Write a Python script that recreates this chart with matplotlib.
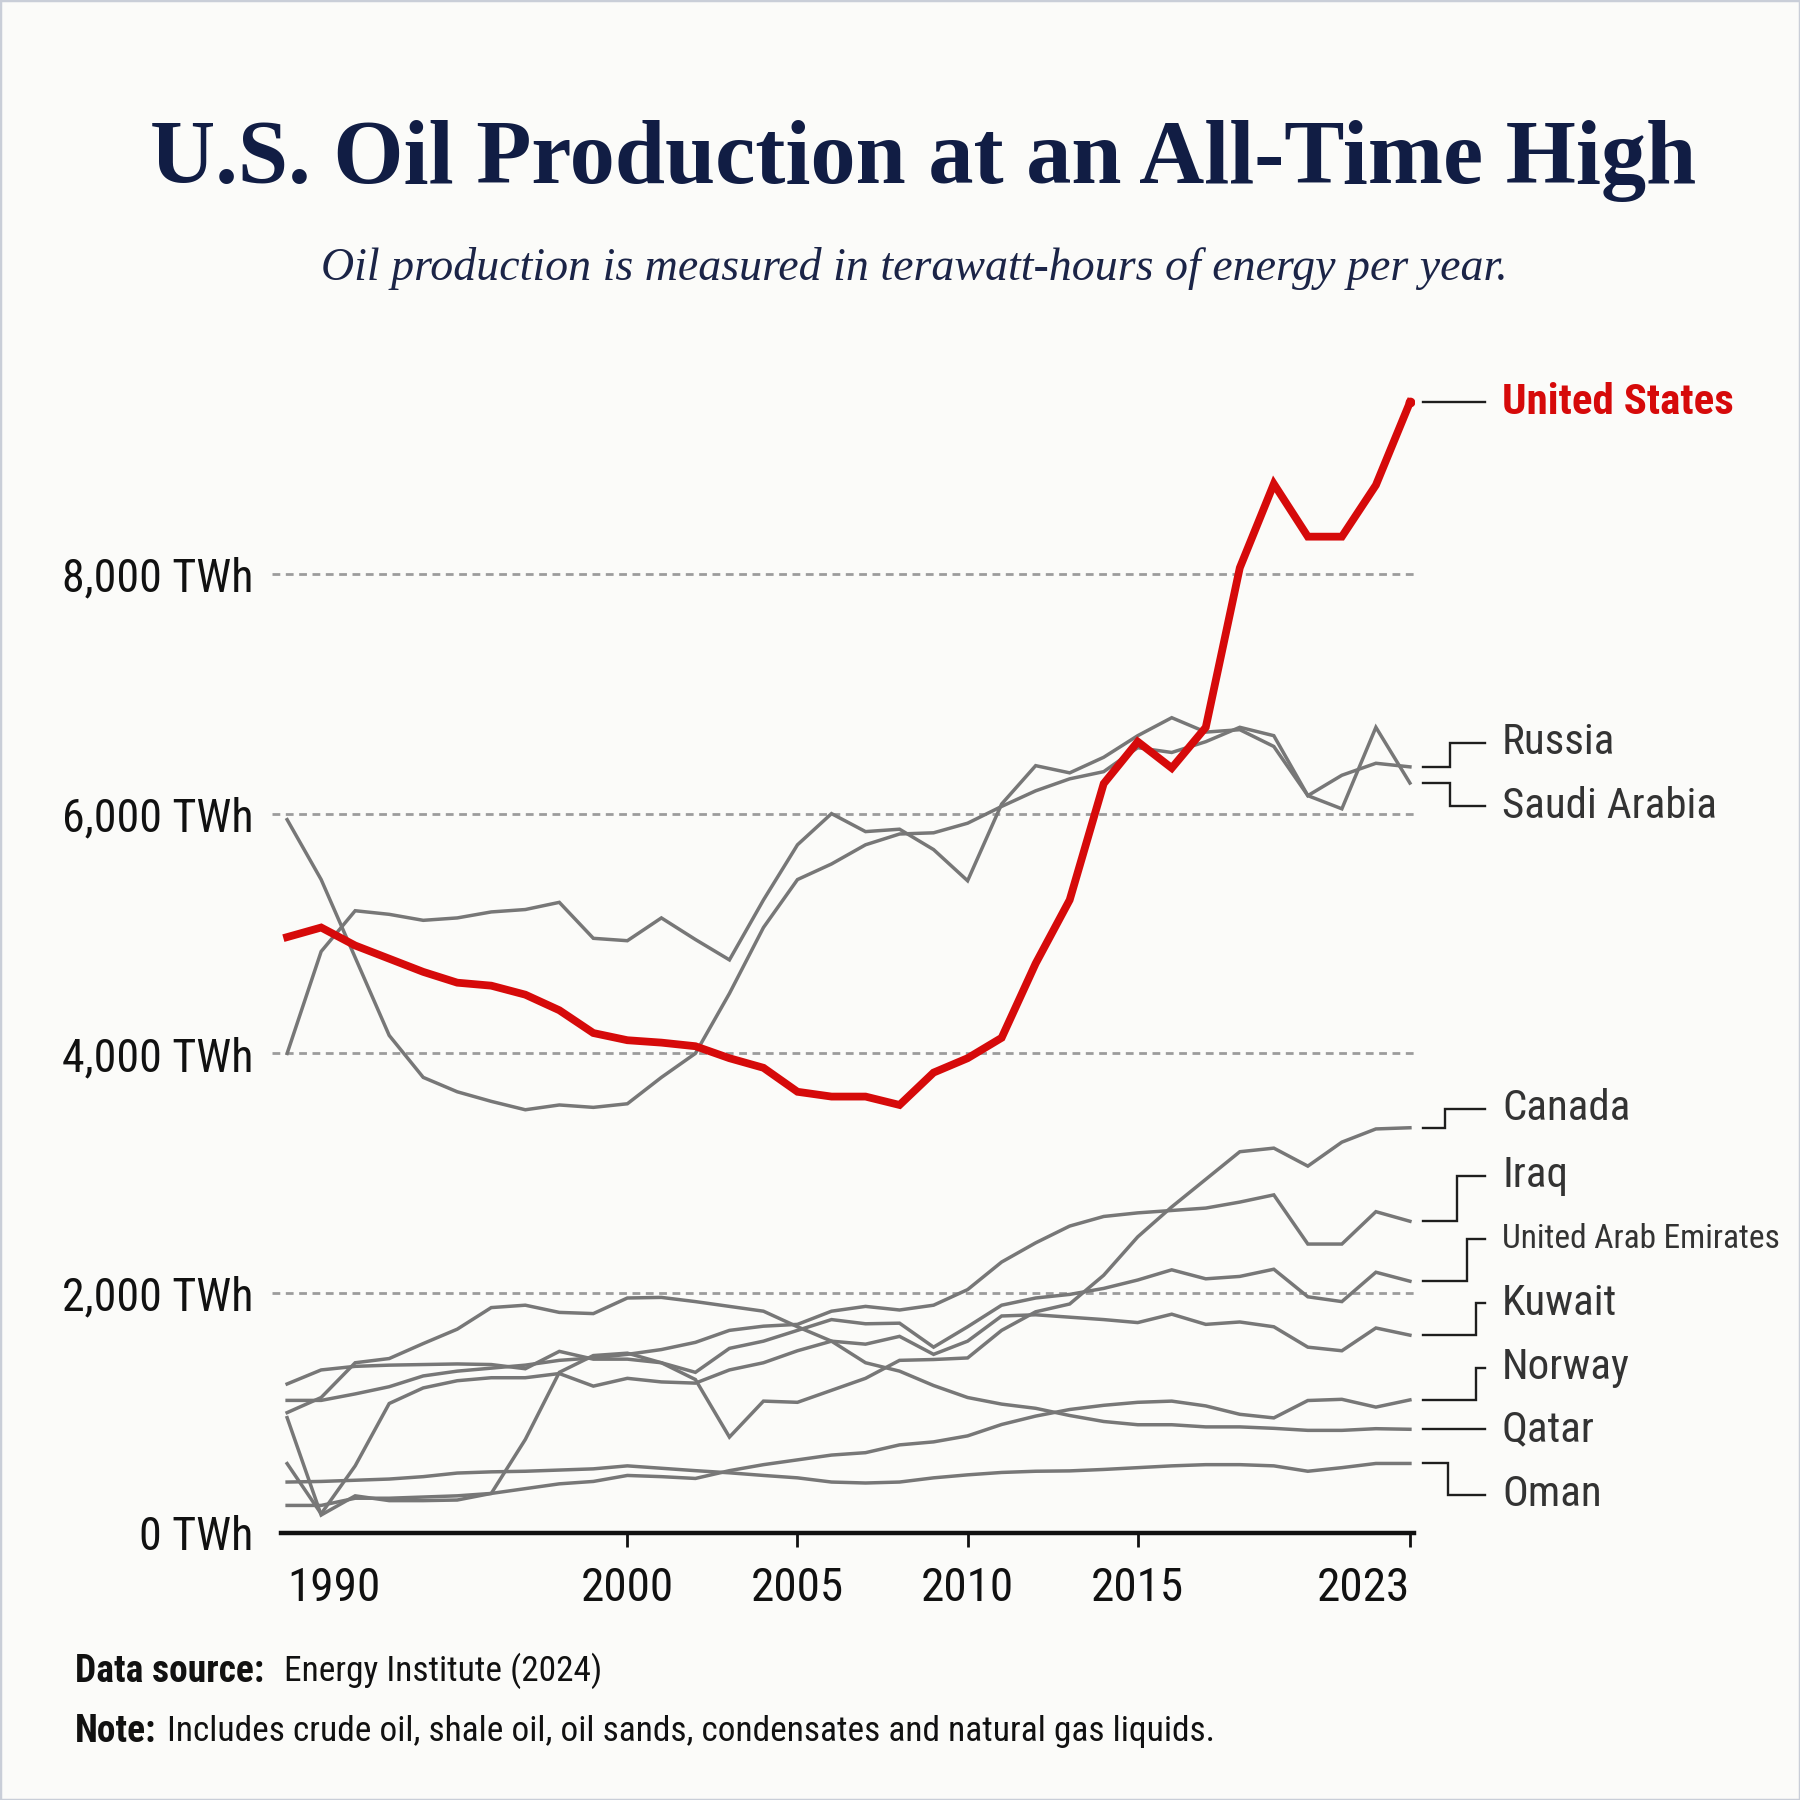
import matplotlib
matplotlib.use("Agg")
import matplotlib.pyplot as plt
from matplotlib import font_manager
from matplotlib.patches import Rectangle


# Data (TWh per year)

years = list(range(1990, 2024))

us = [4970, 5050, 4900, 4790, 4680, 4590, 4565, 4490, 4360, 4170,
      4110, 4090, 4060, 3960, 3880, 3680, 3640, 3640, 3570, 3840,
      3960, 4130, 4750, 5280, 6250, 6600, 6380, 6720, 8050, 8750,
      8310, 8310, 8740, 9430]

russia = [5950, 5450, 4800, 4150, 3800, 3680, 3600, 3530, 3570, 3550,
          3580, 3800, 4000, 4500, 5050, 5450, 5580, 5740, 5830, 5840,
          5920, 6060, 6190, 6290, 6350, 6550, 6510, 6600, 6720, 6650,
          6150, 6320, 6420, 6390]

saudi = [4000, 4850, 5190, 5160, 5110, 5130, 5180, 5200, 5260, 4960,
         4940, 5130, 4950, 4780, 5280, 5740, 6000, 5850, 5870, 5700,
         5440, 6080, 6400, 6340, 6470, 6650, 6800, 6680, 6700, 6560,
         6150, 6040, 6720, 6255]

canada = [962, 150, 310, 270, 270, 275, 330, 780, 1340, 1480,
          1500, 1420, 1280, 800, 1100, 1090, 1190, 1290, 1440, 1447,
          1460, 1690, 1845, 1910, 2150, 2470, 2720, 2950, 3180, 3210,
          3060, 3260, 3370, 3380]

iraq = [1106, 1106, 1160, 1220, 1310, 1350, 1375, 1400, 1440, 1460,
        1490, 1530, 1590, 1690, 1725, 1740, 1850, 1890, 1860, 1900,
        2030, 2260, 2420, 2560, 2640, 2670, 2690, 2710, 2760, 2820,
        2410, 2410, 2680, 2600]

uae = [1243, 1360, 1390, 1400, 1405, 1410, 1405, 1370, 1515, 1450,
       1450, 1420, 1340, 1540, 1600, 1690, 1780, 1745, 1750, 1550,
       1720, 1900, 1960, 1990, 2040, 2110, 2195, 2120, 2140, 2200,
       1970, 1930, 2175, 2100]

kuwait = [579, 160, 560, 1080, 1210, 1270, 1295, 1295, 1330, 1225,
          1290, 1260, 1250, 1360, 1420, 1520, 1600, 1575, 1640, 1490,
          1600, 1810, 1820, 1800, 1780, 1755, 1825, 1740, 1760, 1720,
          1550, 1520, 1710, 1650]

norway = [230, 230, 290, 290, 300, 310, 330, 370, 410, 430,
          480, 470, 455, 520, 570, 610, 650, 670, 735, 760,
          810, 905, 975, 1030, 1065, 1090, 1100, 1060, 990, 960,
          1105, 1115, 1050, 1110]

qatar = [1004, 1130, 1420, 1455, 1580, 1700, 1880, 1900, 1840, 1830,
         1960, 1965, 1930, 1890, 1850, 1720, 1600, 1420, 1350, 1230,
         1130, 1075, 1040, 980, 930, 903, 903, 885, 885, 873,
         856, 856, 870, 865]

oman = [425, 430, 440, 450, 470, 500, 510, 515, 525, 535,
        560, 540, 520, 502, 480, 460, 425, 417, 425, 460,
        485, 505, 515, 518, 530, 545, 560, 570, 570, 560,
        515, 545, 580, 580]

y_ticks = [0, 2000, 4000, 6000, 8000]
y_tick_labels = ["0 TWh", "2,000 TWh", "4,000 TWh", "6,000 TWh", "8,000 TWh"]
x_ticks = [1990, 2000, 2005, 2010, 2015, 2023]


# Fonts: prefer a narrow sans, fall back to Roboto

installed = {f.name for f in font_manager.fontManager.ttflist}
narrow = None
for cand in ["Liberation Sans Narrow", "Roboto Condensed", "Open Sans Condensed"]:
    if cand in installed:
        narrow = cand
        break
if narrow:
    SANS = [narrow, "DejaVu Sans"]
    FS = 1.0
else:
    SANS = ["Roboto", "DejaVu Sans"]
    FS = 0.86
SERIF = ["Liberation Serif", "DejaVu Serif"]


# Style

BG = "#fbfbf9"
RED = "#d60a0a"
GREY = "#777777"
NAVY = "#111d44"

W = 1800
XMIN, XMAX = 1989.82, 2023.12
AX_LEFT, AX_RIGHT = 281, 1414


def px_to_year(px):
    return XMIN + (px - AX_LEFT) / (AX_RIGHT - AX_LEFT) * (XMAX - XMIN)


# name, series, label y, elbow x (px), font size, colour, weight
labels = [
    ("United States", us, None, None, 31, RED, "bold"),
    ("Russia", russia, 6590, 1450, 31, "#333333", "normal"),
    ("Saudi Arabia", saudi, 6060, 1450, 31, "#333333", "normal"),
    ("Canada", canada, 3540, 1445, 31, "#333333", "normal"),
    ("Iraq", iraq, 2980, 1457, 31, "#333333", "normal"),
    ("United Arab Emirates", uae, 2450, 1467, 24, "#333333", "normal"),
    ("Kuwait", kuwait, 1915, 1476, 31, "#333333", "normal"),
    ("Norway", norway, 1380, 1476, 31, "#333333", "normal"),
    ("Qatar", qatar, None, None, 31, "#333333", "normal"),
    ("Oman", oman, 320, 1448, 31, "#333333", "normal"),
]


fig = plt.figure(figsize=(18, 18), dpi=100, facecolor=BG)
ax = fig.add_axes([AX_LEFT / W, 267 / W, (AX_RIGHT - AX_LEFT) / W, 1163 / W])
ax.set_facecolor(BG)
ax.set_xlim(XMIN, XMAX)
ax.set_ylim(0, 9700)

# dotted gridlines
ax.hlines(y_ticks[1:], px_to_year(272), px_to_year(1416), colors="#9c9c9c",
          linewidth=2.0, linestyles=(0, (2.8, 2.0)), clip_on=False, zorder=1)

# grey countries
for name, series, *_ in labels[1:]:
    ax.plot(years, series, color=GREY, linewidth=2.5, zorder=2,
            solid_joinstyle="miter")

# United States on top
ax.plot(years, us, color=RED, linewidth=5.6, zorder=4, solid_joinstyle="miter")
ax.plot(years[-1], us[-1], "o", color=RED, markersize=6, zorder=5)

# connectors and labels
x0 = px_to_year(1423)
x1 = px_to_year(1485)
xt = px_to_year(1502)
for name, series, ly, elbow, fs, col, wt in labels:
    end = series[-1]
    if ly is None:
        xs, ys = [x0, x1], [end, end]
        ly = end
    else:
        xe = px_to_year(elbow)
        xs, ys = [x0, xe, xe, x1], [end, end, ly, ly]
    ax.plot(xs, ys, color="#1e1e1e", linewidth=1.7, clip_on=False,
            solid_joinstyle="miter", zorder=3)
    ax.text(xt, ly, name, ha="left", va="center", fontsize=fs * FS, color=col,
            fontweight=wt, family=SANS, clip_on=False)

# axes
for side in ["left", "top", "right"]:
    ax.spines[side].set_visible(False)
ax.spines["bottom"].set_linewidth(3.2)
ax.spines["bottom"].set_color("#111111")

ax.set_yticks(y_ticks)
ax.set_yticklabels(y_tick_labels)
ax.tick_params(axis="y", length=0, pad=20, labelsize=33 * FS,
               labelcolor="#111111")

ax.set_xticks(x_ticks)
ax.set_xticklabels([str(x) for x in x_ticks])
ax.tick_params(axis="x", length=10, width=2.0, color="#111111", pad=14,
               labelsize=34 * FS, labelcolor="#111111")
ax.xaxis.get_major_ticks()[0].tick1line.set_visible(False)

for lab in ax.get_xticklabels() + ax.get_yticklabels():
    lab.set_fontfamily(SANS)
xl = ax.get_xticklabels()
xl[0].set_ha("left")
xl[-1].set_ha("right")

# titles
fig.text(0.513, 1 - 161 / W, "U.S. Oil Production at an All-Time High",
         ha="center", va="center", fontsize=65, fontweight="bold",
         family=SERIF, color=NAVY)
fig.text(0.508, 1 - 268 / W,
         "Oil production is measured in terawatt-hours of energy per year.",
         ha="center", va="center", fontsize=33, style="italic",
         family=SERIF, color="#1b2447")


# footer: bold lead-in followed by regular text
def footer_line(y, bold, rest, gap):
    t = fig.text(75 / W, y, bold, ha="left", va="center", fontsize=27 * FS,
                 fontweight="bold", family=SANS, color="#111111")
    fig.canvas.draw()
    bb = t.get_window_extent()
    fig.text((bb.x1 + gap) / W, y, rest, ha="left", va="center",
             fontsize=25.5 * FS, family=SANS, color="#111111")


footer_line(1 - 1671 / W, "Data source:", "Energy Institute (2024)", 20)
footer_line(1 - 1731 / W, "Note:",
            "Includes crude oil, shale oil, oil sands, condensates and natural gas liquids.",
            11)

fig.patches.append(Rectangle((0, 0), 1, 1, transform=fig.transFigure,
                             fill=False, edgecolor="#c9ced8", linewidth=2.5))

fig.savefig("out.png", dpi=100, facecolor=BG)
